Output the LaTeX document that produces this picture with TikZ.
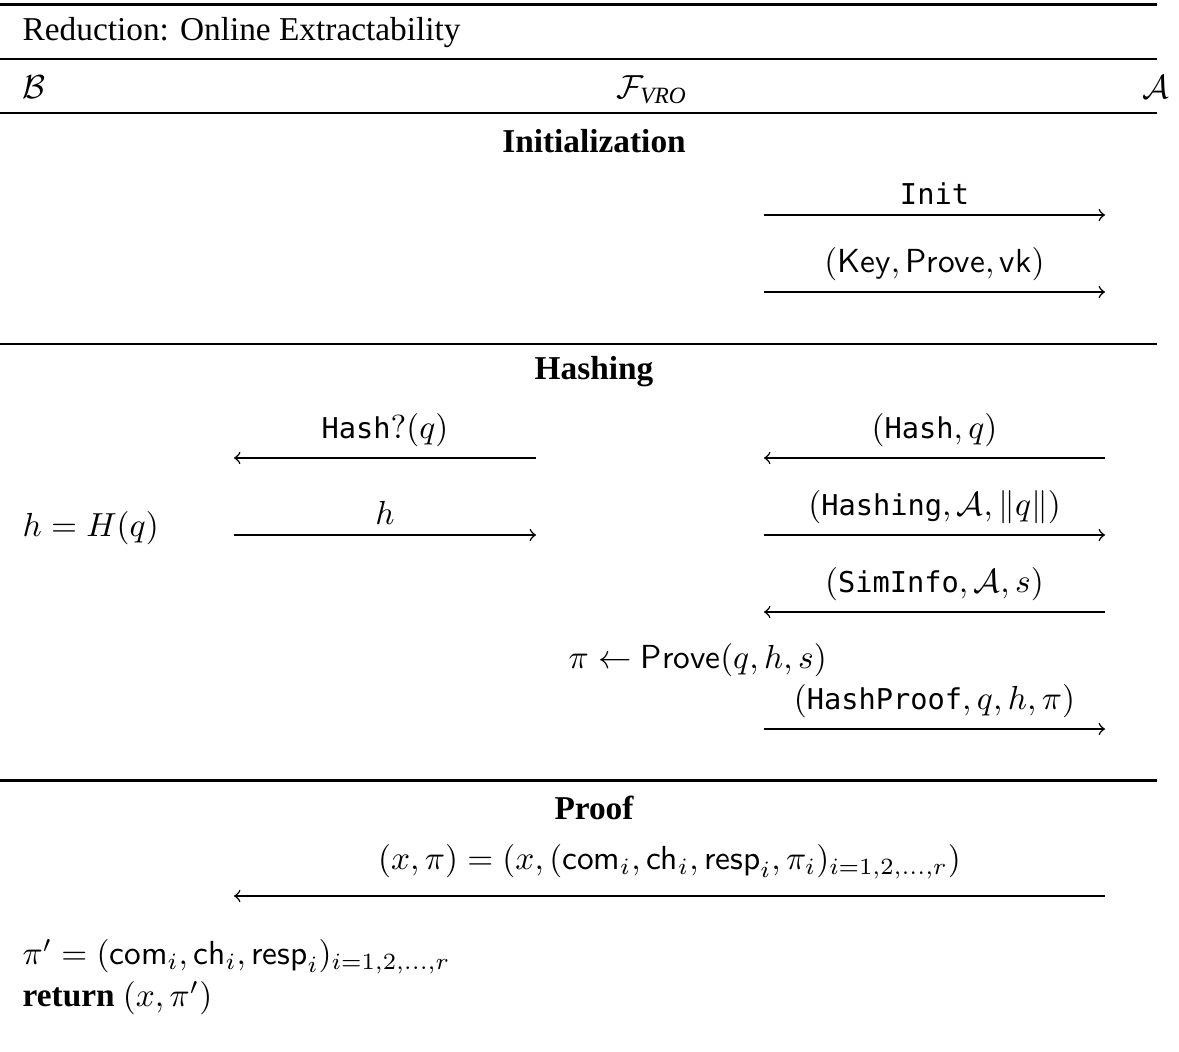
\documentclass[tikz,border=0pt]{standalone}
\usepackage{amsmath}
\usepackage{fontspec}
\setmainfont{Liberation Serif}
\setmonofont[Scale=0.86]{DejaVu Sans Mono}
\usepackage{tikz}

\begin{document}
\begin{tikzpicture}[
    x=0.3pt, y=-0.3pt,
    every node/.style={inner sep=0pt},
    msg/.style={->, line width=0.45pt},
    lbl/.style={above, inner sep=3pt},
    rule/.style={line width=0.5pt},
    thickrule/.style={line width=0.9pt},
    head/.style={font=\bfseries}
]
\useasboundingbox (0,0) rectangle (1179,1052);

% frame rules
\draw[thickrule] (0,5) -- (1157,5);
\draw[rule] (0,59) -- (1157,59);
\draw[rule] (0,113) -- (1157,113);
\draw[rule] (0,344) -- (1157,344);
\draw[thickrule] (0,780) -- (1157,780);

\node[anchor=west] (title) at (22,33) {Reduction: Online Extractability};
\node[anchor=west] (B) at (22,87) {$\mathcal{B}$};
\node (F) at (652,90) {$\mathcal{F}_{\mathit{VRO}}$};
\node[anchor=east] (A) at (1170,87) {$\mathcal{A}$};

% initialization
\node[head] (init) at (594,141) {Initialization};
\coordinate (i1s) at (764,215);  \coordinate (i1e) at (1105,215);
\coordinate (i2s) at (764,292);  \coordinate (i2e) at (1105,292);
\draw[msg] (i1s) -- node[lbl] {$\mathtt{Init}$} (i1e);
\draw[msg] (i2s) -- node[lbl] {$(\mathsf{Key}, \mathsf{Prove}, \mathsf{vk})$} (i2e);

% hashing
\node[head] (hashing) at (594,372) {Hashing};
\coordinate (hq1) at (536,458);  \coordinate (hq2) at (234,458);
\coordinate (ha1) at (1105,458); \coordinate (ha2) at (764,458);
\coordinate (hh1) at (234,535);  \coordinate (hh2) at (536,535);
\coordinate (hg1) at (764,535);  \coordinate (hg2) at (1105,535);
\coordinate (hs1) at (1105,612); \coordinate (hs2) at (764,612);
\coordinate (hp1) at (764,729);  \coordinate (hp2) at (1105,729);
\draw[msg] (hq1) -- node[lbl] {$\mathtt{Hash?}(q)$} (hq2);
\draw[msg] (ha1) -- node[lbl] {$(\mathtt{Hash}, q)$} (ha2);
\node[anchor=west] (hH) at (22,528) {$h = H(q)$};
\draw[msg] (hh1) -- node[lbl] {$h$} (hh2);
\draw[msg] (hg1) -- node[lbl] {$(\mathtt{Hashing}, \mathcal{A}, \|q\|)$} (hg2);
\draw[msg] (hs1) -- node[lbl] {$(\mathtt{SimInfo}, \mathcal{A}, s)$} (hs2);
\node[anchor=west] (prv) at (568,660) {$\pi \leftarrow \mathsf{Prove}(q, h, s)$};
\draw[msg] (hp1) -- node[lbl] {$(\mathtt{HashProof}, q, h, \pi)$} (hp2);

% proof
\node[head] (proof) at (594,808) {Proof};
\coordinate (pf1) at (1105,896); \coordinate (pf2) at (234,896);
\draw[msg] (pf1) -- node[lbl, above=2pt] {$(x, \pi) = (x, (\mathsf{com}_i, \mathsf{ch}_i, \mathsf{resp}_i, \pi_i)_{i=1,2,\dots,r})$} (pf2);
\node[anchor=west] (pi2) at (22,957) {$\pi' = (\mathsf{com}_i, \mathsf{ch}_i, \mathsf{resp}_i)_{i=1,2,\dots,r}$};
\node[anchor=west] (ret) at (22,998) {\textbf{return} $(x, \pi')$};
\end{tikzpicture}
\end{document}
